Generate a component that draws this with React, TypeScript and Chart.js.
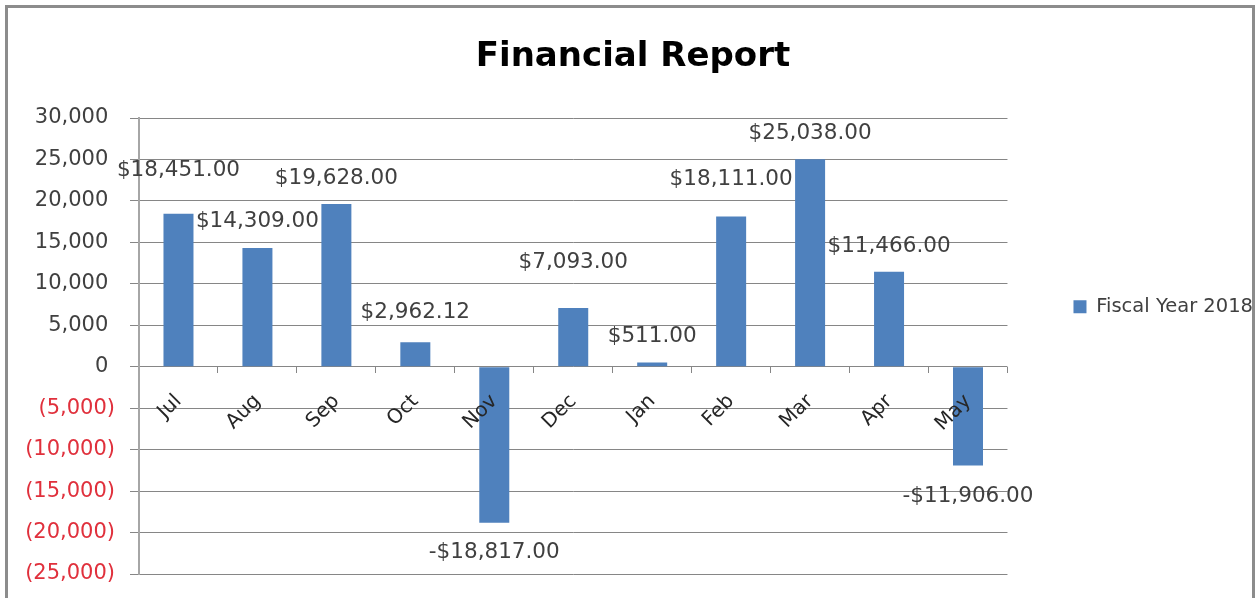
import React, { useEffect, useRef } from 'react';
import { Chart, registerables } from 'chart.js';

Chart.register(...registerables);

const months = ['Jul', 'Aug', 'Sep', 'Oct', 'Nov', 'Dec', 'Jan', 'Feb', 'Mar', 'Apr', 'May'];
const fiscal2018 = [18451, 14309, 19628, 2962.12, -18817, 7093, 511, 18111, 25038, 11466, -11906];
const seriesName = 'Fiscal Year 2018';
const chartTitle = 'Financial Report';
const yMin = -25000;
const yMax = 30000;
const yStep = 5000;
// distance (px) of each value label from the end of its bar, as placed in the original
const labelNudge = [43, 27, 26, 30, 30, 45, 26, 37, 26, 25, 31];

const FONT = "'DejaVu Sans', sans-serif";

function groupThousands(n: number): string {
  return String(n).replace(/\B(?=(\d{3})+(?!\d))/g, ',');
}

function fmtMoney(v: number): string {
  const abs = Math.abs(v);
  const whole = Math.floor(abs);
  const cents = Math.round((abs - whole) * 100);
  const s = '$' + groupThousands(whole) + '.' + String(cents).padStart(2, '0');
  return v < 0 ? '-' + s : s;
}

function fmtAxis(v: number): string {
  if (v < 0) return '(' + groupThousands(Math.abs(v)) + ')';
  return groupThousands(v) + ' ';
}

const valueLabels = {
  id: 'valueLabels',
  afterDraw(chart: any) {
    const ctx = chart.ctx;
    const meta = chart.getDatasetMeta(0);
    ctx.save();
    ctx.font = `21.5px ${FONT}`;
    ctx.fillStyle = '#404040';
    ctx.textAlign = 'center';
    ctx.textBaseline = 'middle';
    meta.data.forEach((bar: any, i: number) => {
      const v = fiscal2018[i];
      const y = v >= 0 ? bar.y - labelNudge[i] : bar.y + labelNudge[i];
      ctx.fillText(fmtMoney(v), bar.x, y);
    });
    ctx.restore();
  },
};

export default function App() {
  const ref = useRef<HTMLCanvasElement | null>(null);

  useEffect(() => {
    if (!ref.current) return;
    const chart = new Chart(ref.current, {
      type: 'bar',
      data: {
        labels: months,
        datasets: [
          {
            label: seriesName,
            data: fiscal2018,
            backgroundColor: '#4F81BD',
            borderWidth: 0,
            categoryPercentage: 1,
            barPercentage: 0.38,
          },
        ],
      },
      options: {
        responsive: false,
        animation: false,
        layout: { padding: { left: 3, right: 0, top: 0, bottom: 24 } },
        plugins: {
          title: {
            display: true,
            text: chartTitle,
            color: '#000000',
            font: { family: FONT, size: 34, weight: 'bold', lineHeight: 1.2 },
            padding: { top: 37, bottom: 40.2 },
          },
          legend: {
            position: 'right',
            align: 'start',
            title: {
              display: true,
              text: ' ',
              font: { family: FONT, size: 10, lineHeight: 1.2 },
              padding: { top: 0, bottom: 219 },
            },
            labels: {
              boxWidth: 13,
              boxHeight: 13,
              padding: 66,
              color: '#404040',
              font: { family: FONT, size: 19.5 },
            },
          },
          tooltip: { enabled: false },
        },
        scales: {
          x: {
            type: 'category',
            position: { y: 0 } as any,
            offset: true,
            grid: {
              display: true,
              drawOnChartArea: false,
              offset: true,
              tickLength: 6,
              color: '#868686',
            },
            border: { display: false },
            ticks: {
              z: 1,
              autoSkip: false,
              minRotation: 45,
              maxRotation: 45,
              padding: 17,
              color: '#262626',
              font: { family: FONT, size: 20 },
            },
          },
          y: {
            min: yMin,
            max: yMax,
            ticks: {
              stepSize: yStep,
              padding: 15,
              callback: (v: any) => fmtAxis(Number(v)),
              color: (c: any) => (c.tick && c.tick.value < 0 ? '#e0303c' : '#404040'),
              font: { family: FONT, size: 21 },
            },
            grid: { color: '#868686', tickLength: 9 },
            border: { color: '#a6a6a6', width: 2 },
            afterFit: (s: any) => {
              s.width = 136;
              s.paddingTop = 0;
              s.paddingBottom = 0;
            },
          },
        },
      },
      plugins: [valueLabels],
    });
    return () => chart.destroy();
  }, []);

  return (
    <div
      style={{
        position: 'fixed',
        left: 0,
        top: 0,
        width: 1257,
        height: 598,
        overflow: 'hidden',
        background: '#ffffff',
      }}
    >
      <canvas
        ref={ref}
        width={1263}
        height={598}
        style={{ position: 'absolute', left: 0, top: 0, display: 'block' }}
      />
      <div
        style={{
          position: 'absolute',
          left: 5,
          top: 5,
          width: 1250,
          height: 700,
          border: '3px solid #8c8c8c',
          boxSizing: 'border-box',
          pointerEvents: 'none',
        }}
      />
    </div>
  );
}
